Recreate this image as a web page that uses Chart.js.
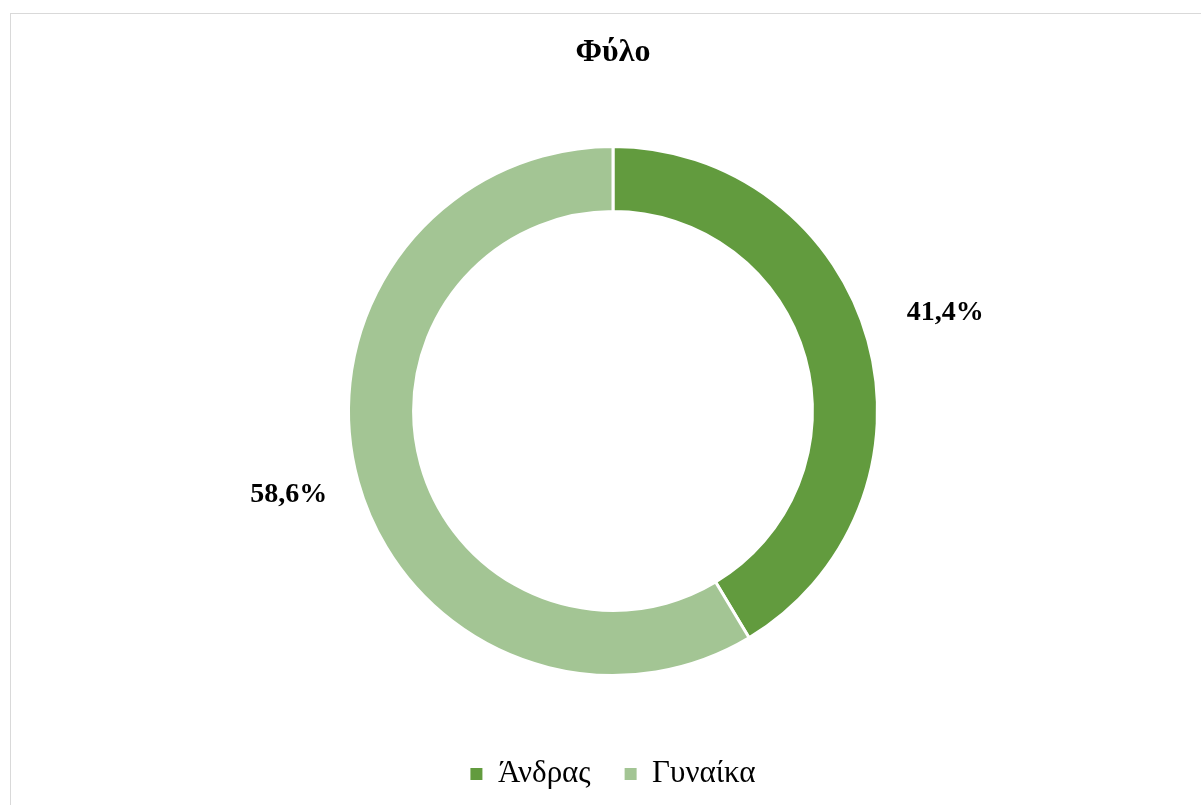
<!DOCTYPE html>
<html>
<head>
<meta charset="utf-8">
<script src="https://cdn.jsdelivr.net/npm/chart.js@4"></script>
<style>
	body { margin: 0; background: #fff; overflow: hidden; }
	#frame {
		position: absolute;
		left: 10px;
		top: 13px;
		width: 1300px;
		height: 900px;
		border: 1px solid #d9d9d9;
	}
	#chart { display: block; }
</style>
</head>
<body>
<div id="frame">
	<canvas id="chart" width="1204" height="791"></canvas>
</div>
<script>
// ===== Data =====
const categories = ["Άνδρας", "Γυναίκα"];
const shares = [41.4, 58.6];
const sliceColors = ["#629b3e", "#a3c594"];
const chartTitle = "Φύλο";

const serif = "'Liberation Serif', 'DejaVu Serif', serif";

// percent labels drawn outside the ring, Greek decimal comma
const outsideLabels = {
	id: "outsideLabels",
	afterDatasetsDraw(chart) {
		const ctx = chart.ctx;
		const meta = chart.getDatasetMeta(0);
		ctx.save();
		ctx.font = "bold 28px " + serif;
		ctx.fillStyle = "#000";
		ctx.textAlign = "center";
		ctx.textBaseline = "middle";
		meta.data.forEach((arc, i) => {
			const p = arc.getProps(["x", "y", "startAngle", "endAngle", "outerRadius"], true);
			const mid = (p.startAngle + p.endAngle) / 2;
			const r = p.outerRadius + 76;
			const text = shares[i].toFixed(1).replace(".", ",") + "%";
			// small nudge so the labels sit like the Excel ones
			ctx.fillText(text, p.x + Math.cos(mid) * r + 4, p.y + Math.sin(mid) * r - 7);
		});
		ctx.restore();
	},
};

const ctx = document.getElementById("chart").getContext("2d");
new Chart(ctx, {
	type: "doughnut",
	data: {
		labels: categories,
		datasets: [
			{
				data: shares,
				backgroundColor: sliceColors,
				borderColor: "#fff",
				borderWidth: 3,
				radius: 264.5,
				cutout: "75.4%",
			},
		],
	},
	options: {
		responsive: false,
		devicePixelRatio: 1,
		animation: false,
		events: [],
		layout: { padding: { top: 0, bottom: 5.5, left: 0, right: 0 } },
		plugins: {
			tooltip: { enabled: false },
			title: {
				display: true,
				text: chartTitle,
				color: "#000",
				font: { family: serif, size: 32, weight: "bold", lineHeight: 1.2 },
				padding: { top: 19.8, bottom: 25.3 },
			},
			legend: {
				position: "bottom",
				labels: {
					color: "#000",
					boxWidth: 12,
					boxHeight: 12,
					padding: 34,
					font: { family: serif, size: 31 },
					// no white outline on the legend squares
					generateLabels: (chart) =>
						Chart.overrides.doughnut.plugins.legend.labels
							.generateLabels(chart)
							.map((item) => ({ ...item, lineWidth: 0 })),
				},
			},
		},
	},
	plugins: [outsideLabels],
});
</script>
</body>
</html>
